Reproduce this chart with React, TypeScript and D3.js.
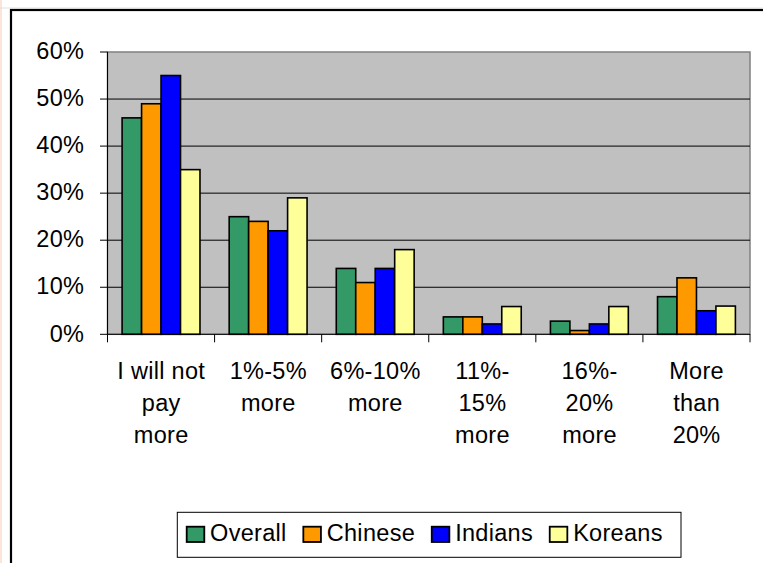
import React, { useMemo } from "react";
import * as d3 from "d3";

const categories: string[][] = [
  ["I will not", "pay", "more"],
  ["1%-5%", "more"],
  ["6%-10%", "more"],
  ["11%-", "15%", "more"],
  ["16%-", "20%", "more"],
  ["More", "than", "20%"],
];
const seriesNames = ["Overall", "Chinese", "Indians", "Koreans"];
const overall = [46, 25, 14, 3.7, 2.8, 8];
const chinese = [49, 24, 11, 3.7, 0.8, 12];
const indians = [55, 22, 14, 2.2, 2.2, 5];
const koreans = [35, 29, 18, 5.9, 5.9, 6];
const seriesValues = [overall, chinese, indians, koreans];
const seriesColors = ["#339966", "#FF9900", "#0000FF", "#FFFF99"];
const yTicks = [0, 10, 20, 30, 40, 50, 60];

const W = 763;
const H = 563;
const plot = { left: 107.5, right: 750, top: 52, bottom: 334.3 };
const FONT = "'Liberation Sans', Arial, sans-serif";
const FS = 23.5;
const LS = 0.3;

function measure(text: string): number {
  const c = document.createElement("canvas");
  const ctx = c.getContext("2d");
  if (!ctx) return text.length * 12;
  ctx.font = `${FS}px 'Liberation Sans', Arial, sans-serif`;
  return ctx.measureText(text).width + LS * text.length;
}

export default function App() {
  const catKeys = categories.map((_, i) => String(i));
  const x0 = d3.scaleBand<string>().domain(catKeys).range([plot.left, plot.right]).padding(0);
  const x1 = d3
    .scaleBand<string>()
    .domain(seriesNames)
    .range([0, x0.bandwidth()])
    .paddingInner(0)
    .paddingOuter(0.75);
  const y = d3.scaleLinear().domain([0, 60]).range([plot.bottom, plot.top]);

  const legendItems = useMemo(() => {
    let cx = 186.7;
    return seriesNames.map((name, i) => {
      const w = measure(name);
      const item = { name, color: seriesColors[i], x: cx, w };
      cx += 17.6 + 6 + w + 16.5;
      return item;
    });
  }, []);

  return (
    <svg
      width={W}
      height={H}
      style={{ position: "absolute", left: 0, top: 0, background: "#fff" }}
      fontFamily={FONT}
    >
      <rect x={0} y={0} width={W} height={H} fill="#ffffff" />
      <rect x={0} y={0} width={2} height={H} fill="#fbe4d8" />
      <line x1={0} x2={W} y1={8} y2={8} stroke="#e0e0e0" strokeWidth={1} />
      <rect x={11} y={10} width={W + 20} height={H + 20} fill="none" stroke="#000" strokeWidth={2.2} />

      {/* plot area */}
      <rect
        x={plot.left}
        y={plot.top}
        width={plot.right - plot.left}
        height={plot.bottom - plot.top}
        fill="#C0C0C0"
        stroke="#808080"
        strokeWidth={1.5}
      />
      {yTicks.slice(1, -1).map((t) => (
        <line key={t} x1={plot.left} x2={plot.right} y1={y(t)} y2={y(t)} stroke="#000" strokeWidth={1} />
      ))}

      {/* bars */}
      {categories.map((_, ci) =>
        seriesNames.map((s, si) => {
          const v = seriesValues[si][ci];
          const bx = (x0(String(ci)) as number) + (x1(s) as number);
          return (
            <rect
              key={`${ci}-${si}`}
              x={bx}
              y={y(v)}
              width={x1.bandwidth()}
              height={y(0) - y(v)}
              fill={seriesColors[si]}
              stroke="#000"
              strokeWidth={1.6}
            />
          );
        })
      )}

      {/* axes */}
      <line x1={plot.left} x2={plot.left} y1={plot.top} y2={plot.bottom} stroke="#000" strokeWidth={1} />
      <line x1={plot.left} x2={plot.right} y1={plot.bottom} y2={plot.bottom} stroke="#000" strokeWidth={1} />
      {yTicks.map((t) => (
        <g key={t}>
          <line x1={100} x2={plot.left} y1={y(t)} y2={y(t)} stroke="#000" strokeWidth={1} />
          <text
            x={84.3}
            y={y(t) + 7.2}
            textAnchor="end"
            fontSize={FS}
            letterSpacing={LS}
            fill="#000"
          >
            {`${t}%`}
          </text>
        </g>
      ))}
      {catKeys.concat([String(categories.length)]).map((k, i) => {
        const xx = i < categories.length ? (x0(k) as number) : plot.right;
        return <line key={k} x1={xx} x2={xx} y1={plot.bottom} y2={plot.bottom + 8} stroke="#000" strokeWidth={1} />;
      })}
      {categories.map((lines, ci) => {
        const cx = (x0(String(ci)) as number) + x0.bandwidth() / 2;
        return (
          <text key={ci} textAnchor="middle" fontSize={FS} letterSpacing={LS} fill="#000">
            {lines.map((ln, li) => (
              <tspan key={li} x={cx + LS / 2} y={378.5 + li * 32}>
                {ln}
              </tspan>
            ))}
          </text>
        );
      })}

      {/* legend */}
      <rect x={177.3} y={512.3} width={503.7} height={45} fill="#fff" stroke="#000" strokeWidth={1} />
      {legendItems.map((it) => (
        <g key={it.name}>
          <rect x={it.x} y={526.7} width={17.6} height={15.3} fill={it.color} stroke="#000" strokeWidth={1.8} />
          <text x={it.x + 23.4} y={540.5} fontSize={FS} letterSpacing={LS} fill="#000">
            {it.name}
          </text>
        </g>
      ))}
    </svg>
  );
}
